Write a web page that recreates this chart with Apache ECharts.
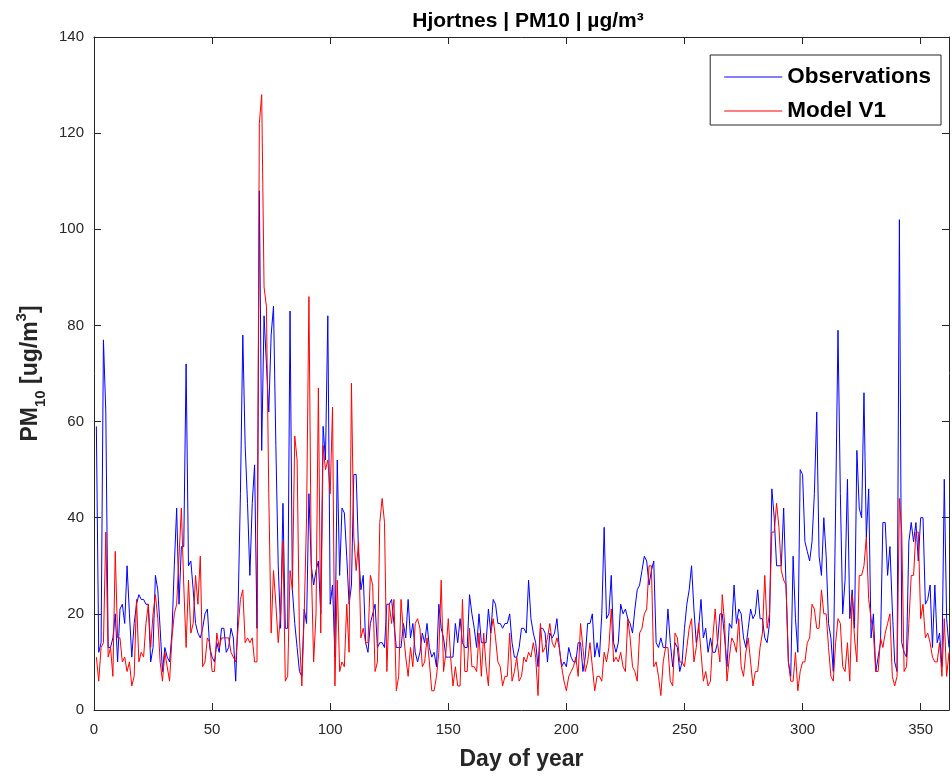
<!DOCTYPE html>
<html>
<head>
<meta charset="utf-8">
<script src="https://cdn.jsdelivr.net/npm/echarts@6/dist/echarts.min.js"></script>
<style>
  html, body { margin: 0; padding: 0; background: #fff; }
  #main { width: 952px; height: 776px; }
</style>
</head>
<body>
<div id="main"></div>
<script>
var chart = echarts.init(document.getElementById('main'));

var FONT = "'Liberation Sans', Arial, Helvetica, sans-serif";
var AXIS_COLOR = '#262626';

// daily values, day 1 .. 362
var observations = [
  59, 12, 14, 77, 62, 13, 13, 15, 20, 10,
  21, 22, 18, 30, 20, 11, 18, 22, 24, 23,
  23, 22, 22, 10, 13, 28, 25, 17, 8, 13,
  11, 10, 16, 30, 42, 22, 34, 34, 72, 30,
  31, 25, 18, 16, 15, 17, 20, 21, 13, 11,
  10, 14, 12, 17, 17, 12, 13, 17, 15, 6,
  21, 45, 78, 55, 43, 28, 43, 51, 17, 108,
  54, 82, 72, 62, 78, 84, 55, 30, 17, 43,
  17, 17, 83, 25, 18, 13, 8, 7, 21, 18,
  45, 30, 26, 29, 31, 20, 59, 52, 82, 22,
  26, 11, 52, 28, 42, 41, 32, 22, 26, 49,
  49, 33, 25, 28, 14, 12, 18, 20, 22, 13,
  14, 14, 13, 22, 22, 23, 18, 13, 13, 13,
  18, 15, 23, 15, 18, 12, 10, 12, 16, 14,
  18, 13, 11, 12, 9, 22, 17, 15, 11, 11,
  11, 11, 18, 14, 19, 14, 13, 13, 24, 20,
  17, 13, 20, 14, 14, 14, 21, 16, 23, 22,
  18, 18, 17, 18, 18, 20, 14, 11, 11, 13,
  17, 17, 16, 27, 19, 16, 14, 9, 17, 17,
  16, 10, 16, 15, 16, 19, 13, 9, 10, 9,
  13, 11, 10, 10, 14, 14, 8, 11, 18, 18,
  20, 11, 14, 11, 20, 38, 19, 20, 28, 14,
  12, 14, 22, 20, 21, 19, 18, 16, 21, 25,
  26, 29, 32, 31, 26, 29, 31, 14, 13, 15,
  13, 13, 21, 14, 9, 14, 13, 8, 10, 17,
  22, 25, 30, 21, 14, 17, 23, 15, 17, 12,
  15, 12, 12, 14, 20, 20, 15, 9, 18, 17,
  26, 18, 21, 20, 15, 13, 17, 21, 19, 20,
  25, 19, 19, 15, 14, 18, 46, 40, 30, 30,
  30, 42, 26, 10, 7, 32, 19, 12, 50, 49,
  35, 33, 31, 35, 45, 62, 32, 28, 40, 32,
  18, 15, 8, 42, 79, 45, 20, 27, 48, 19,
  25, 17, 54, 42, 40, 66, 36, 46, 15, 20,
  8, 11, 14, 39, 39, 28, 34, 21, 10, 8,
  102, 14, 12, 11, 35, 39, 35, 39, 31, 40,
  40, 22, 23, 26, 13, 26, 14, 16, 9, 48,
  19, 13
];

var modelV1 = [
  11, 6, 13, 14, 37, 11, 13, 7, 33, 15,
  15, 10, 11, 8, 10, 5, 7, 23, 10, 12,
  11, 18, 22, 13, 20, 24, 19, 10, 6, 12,
  9, 6, 15, 20, 22, 32, 42, 26, 13, 27,
  16, 18, 28, 22, 32, 9, 10, 15, 14, 8,
  8, 16, 13, 15, 15, 15, 15, 12, 11, 10,
  17, 23, 25, 14, 15, 14, 15, 10, 10, 122,
  128, 88, 84, 45, 16, 29, 22, 14, 20, 35,
  6, 7, 29, 25, 57, 52, 15, 5, 20, 40,
  86, 30, 10, 20, 67, 16, 55, 50, 52, 45,
  63, 5, 27, 8, 10, 9, 22, 12, 68, 36,
  29, 35, 15, 17, 14, 14, 28, 26, 8, 10,
  39, 44, 39, 8, 22, 18, 23, 4, 7, 23,
  16, 11, 7, 13, 9, 18, 19, 17, 9, 10,
  15, 10, 4, 4, 7, 12, 27, 8, 12, 19,
  11, 5, 9, 5, 5, 23, 8, 8, 17, 9,
  9, 8, 16, 7, 16, 9, 5, 16, 19, 15,
  10, 9, 5, 7, 7, 16, 6, 8, 11, 6,
  7, 11, 10, 12, 11, 14, 11, 3, 18, 12,
  13, 15, 18, 14, 13, 15, 13, 9, 6, 4,
  7, 8, 9, 11, 7, 18, 13, 8, 10, 14,
  9, 4, 7, 7, 6, 12, 10, 13, 21, 10,
  11, 10, 12, 9, 8, 19, 15, 9, 8, 6,
  16, 17, 20, 21, 30, 30, 9, 10, 7, 3,
  10, 13, 13, 6, 5, 16, 15, 10, 10, 9,
  13, 17, 19, 10, 13, 18, 12, 6, 8, 5,
  6, 15, 21, 14, 10, 24, 18, 6, 11, 15,
  14, 12, 19, 9, 7, 12, 15, 10, 5, 8,
  8, 13, 16, 28, 17, 20, 37, 37, 43, 38,
  29, 27, 26, 10, 6, 6, 12, 4, 8, 10,
  10, 14, 15, 22, 21, 17, 17, 25, 20, 20,
  13, 7, 6, 14, 19, 18, 9, 8, 14, 6,
  24, 15, 10, 28, 28, 30, 36, 23, 19, 16,
  8, 8, 15, 13, 16, 18, 20, 7, 5, 7,
  44, 37, 8, 9, 18, 28, 28, 37, 37, 19,
  22, 15, 16, 14, 11, 10, 10, 14, 7, 19,
  7, 12
];

var xTicks = [0, 50, 100, 150, 200, 250, 300, 350];
var yTicks = [0, 20, 40, 60, 80, 100, 120, 140];

function toPairs(arr) {
    return arr.map(function (v, i) { return [i + 1, v]; });
}

var xMax = 362;

var baseX = {
    type: 'value',
    min: 0,
    max: xMax,
    interval: 50,
    axisLine: { show: true, onZero: false, lineStyle: { color: AXIS_COLOR, width: 1 } },
    axisTick: { show: true, inside: true, length: 7, lineStyle: { color: AXIS_COLOR } },
    splitLine: { show: false }
};
var baseY = {
    type: 'value',
    min: 0,
    max: 140,
    interval: 20,
    axisLine: { show: true, onZero: false, lineStyle: { color: AXIS_COLOR, width: 1 } },
    axisTick: { show: true, inside: true, length: 7, lineStyle: { color: AXIS_COLOR } },
    splitLine: { show: false }
};

var option = {
    animation: false,
    backgroundColor: '#fff',
    title: {
        text: 'Hjortnes | PM10 | µg/m³',
        left: 523,
        textAlign: 'center',
        top: 6,
        textStyle: { fontFamily: FONT, fontSize: 21, fontWeight: 'bold', color: '#000' }
    },
    legend: {
        data: ['Observations', 'Model V1'],
        orient: 'vertical',
        right: 11,
        top: 55,
        icon: 'rect',
        itemWidth: 58,
        itemHeight: 1.2,
        itemGap: 6,
        padding: [8, 10, 0, 14],
        backgroundColor: '#fff',
        borderColor: AXIS_COLOR,
        borderWidth: 1,
        borderRadius: 0,
        textStyle: { fontFamily: FONT, fontSize: 22.5, fontWeight: 'bold', color: '#000', lineHeight: 28 }
    },
    grid: { left: 94, right: 2, top: 37, bottom: 65 },
    xAxis: [
        Object.assign({}, baseX, {
            position: 'bottom',
            name: 'Day of year',
            nameLocation: 'middle',
            nameGap: 38,
            nameTextStyle: { fontFamily: FONT, fontSize: 23, fontWeight: 'bold', color: AXIS_COLOR },
            axisLabel: {
                color: AXIS_COLOR, fontFamily: FONT, fontSize: 15, margin: 12,
                formatter: function (v) { return xTicks.indexOf(v) >= 0 ? String(v) : ''; }
            }
        }),
        Object.assign({}, baseX, { position: 'top', axisLabel: { show: false } })
    ],
    yAxis: [
        Object.assign({}, baseY, {
            position: 'left',
            name: 'PM{sub|10} [ug/m{sup|3}]',
            nameLocation: 'middle',
            nameRotate: 90,
            nameGap: 34,
            nameTextStyle: {
                fontFamily: FONT, fontSize: 23, fontWeight: 'bold', color: AXIS_COLOR,
                rich: {
                    sub: { fontFamily: FONT, fontSize: 15, fontWeight: 'bold', color: AXIS_COLOR, verticalAlign: 'bottom', lineHeight: 34 },
                    sup: { fontFamily: FONT, fontSize: 15, fontWeight: 'bold', color: AXIS_COLOR, verticalAlign: 'top', lineHeight: 34 }
                }
            },
            axisLabel: {
                color: AXIS_COLOR, fontFamily: FONT, fontSize: 15, margin: 10,
                formatter: function (v) { return yTicks.indexOf(v) >= 0 ? String(v) : ''; }
            }
        }),
        Object.assign({}, baseY, { position: 'right', axisLabel: { show: false } })
    ],
    series: [
        {
            name: 'Observations',
            type: 'line',
            data: toPairs(observations),
            showSymbol: false,
            symbol: 'none',
            color: '#0000ff',
            lineStyle: { color: '#0000ff', width: 1 }
        },
        {
            name: 'Model V1',
            type: 'line',
            data: toPairs(modelV1),
            showSymbol: false,
            symbol: 'none',
            color: '#ff0000',
            lineStyle: { color: '#ff0000', width: 1 }
        }
    ]
};

chart.setOption(option);
</script>
</body>
</html>
